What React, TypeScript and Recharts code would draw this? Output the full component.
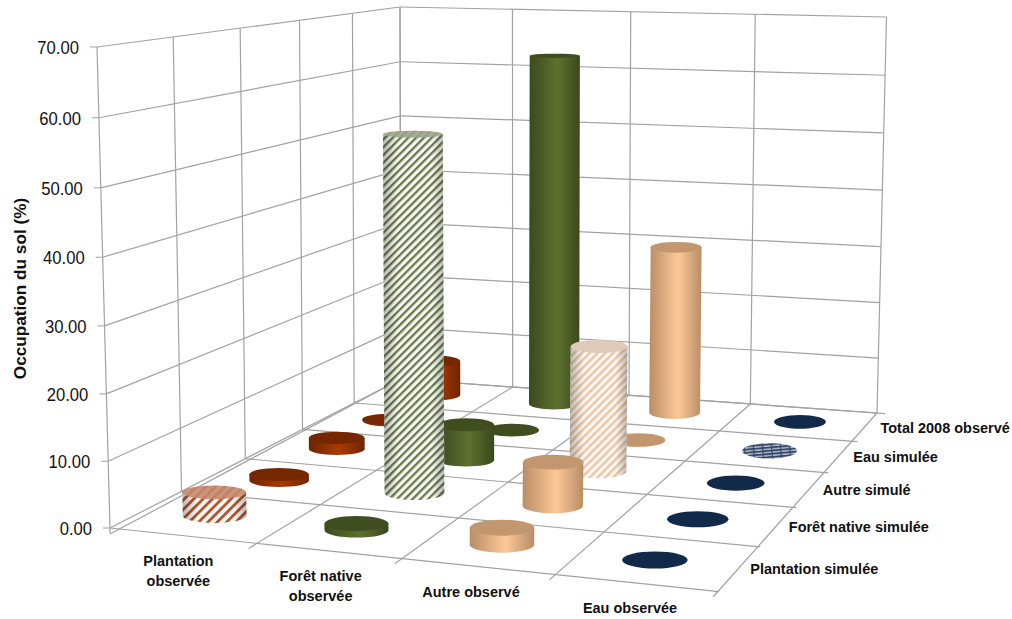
import { ScatterChart, Scatter, XAxis, YAxis, ReferenceLine, Label } from "recharts";

const observedLabels = [["Plantation", "observée"], ["Forêt native", "observée"], ["Autre observé"], ["Eau observée"]];
const simulatedLabels = ["Plantation simulée", "Forêt native simulée", "Autre simulé", "Eau simulée", "Total 2008 observé"];
const valueTicks = [0, 10, 20, 30, 40, 50, 60, 70];

// one array per depth row, front to back: Plantation, Forêt native, Autre, Eau
const plantationSimulee = [3.6, 1.0, 2.5, 0];
const foretNativeSimulee = [1.0, 55.6, 6.8, 0];
const autreSimule = [1.9, 5.9, 20.4, 0];
const eauSimulee = [0.2, 0.1, 0.1, 0];
const total2008 = [6.4, 62.7, 29.8, 0];
const rows = [plantationSimulee, foretNativeSimulee, autreSimule, eauSimulee, total2008];

const COLUMN_STYLES = [
  { id: "red", top: "#752700", stripe: "#b9562a", hatchCap: "#c9957c", period: 6.6, nudge: 0.002 },
  { id: "green", top: "#3f4d1f", stripe: "#6b7f48", hatchCap: "#a5ae95", period: 5.5, nudge: 0.007 },
  { id: "tan", top: "#c2976f", stripe: "#f6c9a0", hatchCap: "#dccbbc", period: 5.5, nudge: 0.005 },
  { id: "navy", top: "#122a4a", stripe: "#3b4f6e", hatchCap: "#8793a5", period: 4.5, nudge: 0.002 },
];
const SIDE_STOPS: Record<string, [string, string]> = {
  red: ["#6f2500", "#a93b00"],
  green: ["#3b491c", "#5d7130"],
  tan: ["#b88d66", "#fdc896"],
  navy: ["#122a4a", "#122a4a"],
};

const WIDTH = 1012;
const HEIGHT = 619;
const AXIS_W = 90;
const ZERO_Y = 528;
const PX_PER_UNIT = 481 / 70;
const GRID = "#a2a2a2";
const FONT = "Liberation Sans";

type Pt = { x: number; y: number };

// unit square -> quad (u runs along the observed categories, v runs back into the picture)
function makeQuad(p0: Pt, p1: Pt, p2: Pt, p3: Pt) {
  const dx1 = p1.x - p2.x, dx2 = p3.x - p2.x, sx = p0.x - p1.x + p2.x - p3.x;
  const dy1 = p1.y - p2.y, dy2 = p3.y - p2.y, sy = p0.y - p1.y + p2.y - p3.y;
  const det = dx1 * dy2 - dx2 * dy1;
  const g = (sx * dy2 - dx2 * sy) / det;
  const h = (dx1 * sy - sx * dy1) / det;
  const a = p1.x - p0.x + g * p1.x, b = p3.x - p0.x + h * p3.x;
  const d = p1.y - p0.y + g * p1.y, e = p3.y - p0.y + h * p3.y;
  return (u: number, v: number): Pt => {
    const w = g * u + h * v + 1;
    return { x: (a * u + b * v + p0.x) / w, y: (d * u + e * v + p0.y) / w };
  };
}

const floorAt = makeQuad({ x: 110, y: 528 }, { x: 713, y: 591 }, { x: 877, y: 413 }, { x: 401, y: 379 });
const ceilAt = makeQuad({ x: 97, y: 47 }, { x: 730, y: 67 }, { x: 886.5, y: 17 }, { x: 400, y: 7 });

function heightFrac(value: number) {
  const t = value / 70;
  return t / (t + (1 - t) * 1.035);
}

function project(u: number, v: number, value: number): Pt {
  const f = floorAt(u, v);
  const c = ceilAt(u, v);
  const t = heightFrac(value);
  return { x: f.x + (c.x - f.x) * t, y: f.y + (c.y - f.y) * t };
}

// pixel -> the chart's data units, the axes below do the way back
const toData = (p: Pt) => ({ x: p.x, y: (ZERO_Y - p.y) / PX_PER_UNIT });

function radii(u: number, v: number) {
  const a = floorAt(u - 0.125, v), b = floorAt(u + 0.125, v);
  const c = floorAt(u, v - 0.1), d = floorAt(u, v + 0.1);
  const rx = Math.sqrt((0.19 * (b.x - a.x)) ** 2 + (0.275 * (d.x - c.x)) ** 2);
  return { rx, ry: rx * (0.21 + 0.06 * u) };
}

const series = rows.map((values, r) =>
  values.map((value, c) => {
    const u = (c + 0.5) / 4 + COLUMN_STYLES[c].nudge;
    const v = (r + 0.5) / 5;
    const top = project(u, v, value);
    const base = project(u, v, 0);
    return { ...toData(top), value, col: c, hatched: r === c, baseDx: base.x - top.x, baseDy: base.y - top.y, ...radii(u, v) };
  })
);

const bottomLabels = observedLabels.map((lines, c) => {
  const p = floorAt((c + 0.5) / 4, 0);
  return { ...toData({ x: p.x, y: p.y + 26 }), lines };
});
const sideLabels = simulatedLabels.map((text, r) => {
  const p = floorAt(1, (r + 0.5) / 5);
  return { ...toData({ x: p.x + 16, y: p.y + 1 }), text };
});

function Cylinder(props: any) {
  const { cx, cy, payload } = props;
  const { col, hatched, rx, ry, baseDx, baseDy, value } = payload;
  const s = COLUMN_STYLES[col];
  const t = value / 70;
  const capRy = ry * (1 - 0.8 * t * t);
  const bx = cx + baseDx;
  const by = cy + baseDy;
  if (value === 0) {
    return hatched ? (
      <g>
        <ellipse cx={cx} cy={cy} rx={rx} ry={ry + 0.5} fill="#b4bcc8" />
        <ellipse cx={cx} cy={cy} rx={rx} ry={ry + 0.5} fill="url(#flat-navy)" />
      </g>
    ) : (
      <ellipse cx={cx} cy={cy} rx={rx} ry={ry} fill={s.top} />
    );
  }
  const side = `M${cx - rx},${cy} L${bx - rx},${by} A${rx},${ry} 0 0 0 ${bx + rx},${by} L${cx + rx},${cy} Z`;
  if (hatched) {
    return (
      <g>
        <path d={side} fill="#fff" />
        <path d={side} fill={`url(#stripe-${s.id})`} />
        <path d={side} fill="url(#edge-shade)" />
        <ellipse cx={cx} cy={cy} rx={rx} ry={capRy} fill={s.hatchCap} />
        <ellipse cx={cx} cy={cy} rx={rx} ry={capRy} fill={`url(#stripe-${s.id})`} fillOpacity={0.3} />
      </g>
    );
  }
  return (
    <g>
      <path d={side} fill={`url(#side-${s.id})`} />
      <ellipse cx={cx} cy={cy} rx={rx} ry={capRy} fill={s.top} />
    </g>
  );
}

function BottomLabel(props: any) {
  const { cx, cy, payload } = props;
  return (
    <g transform={`translate(${cx},${cy}) scale(0.935,1)`}>
      <text textAnchor="middle" fontFamily={FONT} fontWeight="bold" fontSize={15.5} fill="#111">
        {payload.lines.map((line: string, i: number) => (
          <tspan key={line} x={0} dy={i === 0 ? 5 : 20}>{line}</tspan>
        ))}
      </text>
    </g>
  );
}

function SideLabel(props: any) {
  const { cx, cy, payload } = props;
  return (
    <text transform={`translate(${cx},${cy + 5}) scale(0.935,1)`} fontFamily={FONT} fontWeight="bold" fontSize={15.5} fill="#111">
      {payload.text}
    </text>
  );
}

function ValueTick(props: any) {
  const value = props.payload.value;
  const p = floorAt(0, 0);
  const c = ceilAt(0, 0);
  const t = heightFrac(value);
  const x = p.x + (c.x - p.x) * t;
  const y = p.y + (c.y - p.y) * t;
  return (
    <g>
      <line x1={x - 7} y1={y} x2={x} y2={y} stroke={GRID} />
      <text transform={`translate(${x - 18},${y + 7}) scale(0.9,1)`} textAnchor="end" fontFamily={FONT} fontSize={18.5} fill="#111">
        {value.toFixed(2)}
      </text>
    </g>
  );
}

// ReferenceLine has to sit directly in the chart, so these are plain lists of segments
const gridSegments: [Pt, Pt][] = [];
valueTicks.forEach((value) => {
  gridSegments.push([project(0, 0, value), project(0, 1, value)]);
  gridSegments.push([project(0, 1, value), project(1, 1, value)]);
});
for (let r = 0; r <= 5; r++) {
  const v = r / 5;
  gridSegments.push([project(0, v, 0), project(0, v, 70)]);
  const end = floorAt(1, v);
  gridSegments.push([floorAt(0, v), { x: end.x + (r < 5 ? 6 : 8), y: end.y + 0.6 }]);
}
for (let c = 0; c <= 4; c++) {
  const u = c / 4;
  gridSegments.push([project(u, 1, 70), project(u, 1, 0)]);
  const front = floorAt(u, 0);
  gridSegments.push([project(u, 1, 0), { x: front.x, y: front.y + 6 }]);
}
gridSegments.push([floorAt(0, 0), { x: 110, y: 533 }]);

export default function App() {
  return (
    <div style={{ position: "absolute", left: 0, top: 0, background: "#fff" }}>
      <ScatterChart width={WIDTH} height={HEIGHT} margin={{ top: 0, right: 0, bottom: 0, left: 0 }}>
        <defs>
          {COLUMN_STYLES.map((s) => (
            <linearGradient key={s.id} id={`side-${s.id}`} x1="0" y1="0" x2="1" y2="0">
              <stop offset="0%" stopColor={SIDE_STOPS[s.id][0]} />
              <stop offset="55%" stopColor={SIDE_STOPS[s.id][1]} />
              <stop offset="100%" stopColor={SIDE_STOPS[s.id][0]} />
            </linearGradient>
          ))}
          {COLUMN_STYLES.map((s) => (
            <pattern key={s.id} id={`stripe-${s.id}`} width={s.period} height={s.period} patternUnits="userSpaceOnUse" patternTransform="rotate(45)">
              <rect width={s.period * 0.42} height={s.period} fill={s.stripe} />
            </pattern>
          ))}
          <pattern id="flat-navy" width="9" height="3.2" patternUnits="userSpaceOnUse" patternTransform="rotate(-5)">
            <rect width="9" height="1.8" fill="#33486a" />
            <rect width="1.2" height="3.2" fill="#33486a" />
          </pattern>
          <linearGradient id="edge-shade" x1="0" y1="0" x2="1" y2="0">
            <stop offset="0%" stopColor="#000" stopOpacity={0.28} />
            <stop offset="25%" stopColor="#000" stopOpacity={0.03} />
            <stop offset="80%" stopColor="#000" stopOpacity={0.03} />
            <stop offset="100%" stopColor="#000" stopOpacity={0.28} />
          </linearGradient>
        </defs>
        <XAxis type="number" dataKey="x" domain={[AXIS_W, WIDTH]} hide />
        <YAxis
          type="number"
          dataKey="y"
          width={AXIS_W}
          domain={[(ZERO_Y - HEIGHT) / PX_PER_UNIT, ZERO_Y / PX_PER_UNIT]}
          ticks={valueTicks}
          tick={<ValueTick />}
          tickLine={false}
          axisLine={false}
          interval={0}
          allowDataOverflow
        >
          <Label
            value="Occupation du sol (%)"
            angle={-90}
            position="insideLeft"
            textAnchor="middle"
            dx={15}
            dy={-21}
            style={{ fontFamily: FONT, fontWeight: "bold", fontSize: 17.2, fill: "#111" }}
          />
        </YAxis>
        {gridSegments.map(([a, b], i) => (
          <ReferenceLine key={i} segment={[toData(a), toData(b)]} stroke={GRID} strokeWidth={1.2} ifOverflow="visible" />
        ))}
        {[...series].reverse().map((data, i) => (
          <Scatter key={i} name={simulatedLabels[4 - i]} data={data} shape={<Cylinder />} isAnimationActive={false} />
        ))}
        <Scatter data={bottomLabels} shape={<BottomLabel />} isAnimationActive={false} />
        <Scatter data={sideLabels} shape={<SideLabel />} isAnimationActive={false} />
      </ScatterChart>
    </div>
  );
}
